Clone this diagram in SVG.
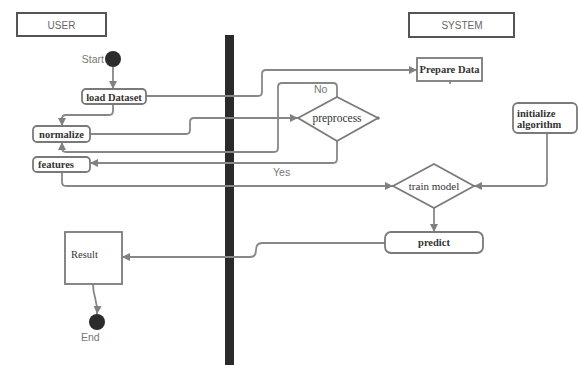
<svg xmlns="http://www.w3.org/2000/svg" width="578" height="365" viewBox="0 0 578 365">
  <style>
    .lane { fill: #fff; stroke: #555; stroke-width: 2; }
    .lane-text { font-family: "Liberation Sans", Arial, sans-serif; font-size: 10px; fill: #666; text-anchor: middle; }
    .box { fill: #fff; stroke: #7a7a7a; stroke-width: 1.8; }
    .label { font-family: "Liberation Serif", "Times New Roman", serif; font-size: 10.5px; fill: #333; }
    .bold { font-weight: bold; }
    .mid { text-anchor: middle; }
    .note { font-family: "Liberation Sans", Arial, sans-serif; font-size: 10.5px; fill: #777; }
    .conn { fill: none; stroke: #878787; stroke-width: 1.8; }
    .dot { fill: #2b2b2b; }
  </style>
  <defs>
    <marker id="arrow" viewBox="0 0 10 10" refX="10" refY="5" markerWidth="8" markerHeight="9" markerUnits="userSpaceOnUse" orient="auto">
      <path d="M0,0 L10,5 L0,10 z" fill="#808080"/>
    </marker>
  </defs>

  <rect width="578" height="365" fill="#fff"/>

  <!-- swimlane headers -->
  <g id="lane-user">
    <rect class="lane" x="17" y="13" width="89" height="23"/>
    <text class="lane-text" x="61.5" y="28.5">USER</text>
  </g>
  <g id="lane-system">
    <rect class="lane" x="409" y="13" width="105" height="24"/>
    <text class="lane-text" x="462" y="29">SYSTEM</text>
  </g>

  <!-- lane divider -->
  <rect id="divider" x="225" y="35" width="9" height="330" fill="#2a2a2a"/>

  <!-- connectors -->
  <g id="connectors">
    <path class="conn" marker-end="url(#arrow)" d="M113,67 V89"/>
    <path class="conn" marker-end="url(#arrow)" d="M113,104 V111 Q113,115 109,115 H66 Q62,115 62,119 V126"/>
    <path class="conn" marker-end="url(#arrow)" d="M146,96 H258 Q262,96 262,92 V74 Q262,70 266,70 H417"/>
    <path class="conn" marker-end="url(#arrow)" d="M90,134 H186 Q190,134 190,130 V122 Q190,118 194,118 H298"/>
    <path class="conn" marker-end="url(#arrow)" d="M337,97 V87 Q337,83 333,83 H282 Q278,83 278,87 V148 Q278,152 274,152 H66 Q62,152 62,148 V142"/>
    <path class="conn" marker-end="url(#arrow)" d="M337,141 V159 Q337,163 333,163 H90"/>
    <path class="conn" marker-end="url(#arrow)" d="M62,172 V182 Q62,186 66,186 H393"/>
    <path class="conn" marker-end="url(#arrow)" d="M547,133 V182 Q547,186 543,186 H474"/>
    <path class="conn" marker-end="url(#arrow)" d="M434,208 V232"/>
    <path class="conn" marker-end="url(#arrow)" d="M385,243 H262 Q256,243 256,250 Q256,257 250,257 H122"/>
    <path class="conn" marker-end="url(#arrow)" d="M93,284 C93,298 98,300 97,314"/>
    <circle cx="378" cy="118" r="1.6" fill="#555"/>
    <path d="M450,81 V84" stroke="#555" stroke-width="1.2"/>
    <text class="note" x="314" y="93">No</text>
    <text class="note" x="273" y="176">Yes</text>
  </g>

  <!-- nodes -->
  <g id="start">
    <circle class="dot" cx="113" cy="59" r="8"/>
    <text class="note" x="104" y="63" text-anchor="end">Start</text>
  </g>
  <g id="load-dataset">
    <rect class="box" x="82" y="89" width="64" height="15" rx="4"/>
    <text class="label bold mid" x="114" y="100.5">load Dataset</text>
  </g>
  <g id="normalize">
    <rect class="box" x="33" y="126" width="57" height="16" rx="4"/>
    <text class="label bold mid" x="61.5" y="138">normalize</text>
  </g>
  <g id="features">
    <rect class="box" x="33" y="157" width="57" height="15" rx="4"/>
    <text class="label bold" x="38" y="167.5">features</text>
  </g>
  <g id="prepare-data">
    <rect class="box" x="417" y="58" width="65" height="23"/>
    <text class="label bold mid" x="449.5" y="73">Prepare Data</text>
  </g>
  <g id="preprocess">
    <polygon class="box" points="298,118 337,97 378,118 337,141"/>
    <text class="label mid" x="337" y="122" style="font-size:11.5px">preprocess</text>
  </g>
  <g id="initialize-algorithm">
    <rect class="box" x="513" y="103" width="64" height="30" rx="5"/>
    <text class="label bold" x="517" y="116.5">initialize</text>
    <text class="label bold" x="517" y="128">algorithm</text>
  </g>
  <g id="train-model">
    <polygon class="box" points="393,186 434,164 474,186 434,208"/>
    <text class="label mid" x="434" y="190" style="font-size:11px">train model</text>
  </g>
  <g id="predict">
    <rect class="box" x="385" y="232" width="98" height="21" rx="6"/>
    <text class="label bold mid" x="434" y="246">predict</text>
  </g>
  <g id="result">
    <rect class="box" x="65" y="232" width="57" height="52"/>
    <text class="label" x="71" y="258">Result</text>
  </g>
  <g id="end">
    <circle class="dot" cx="97" cy="322" r="8"/>
    <text class="note" x="81" y="341">End</text>
  </g>
</svg>
